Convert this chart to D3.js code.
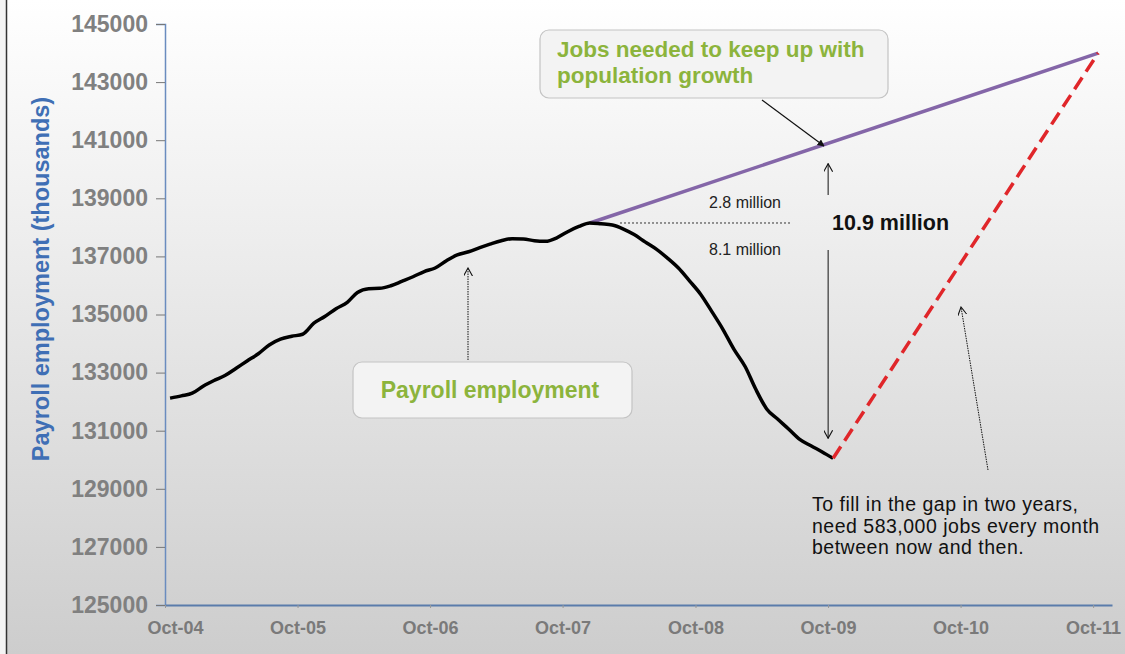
<!DOCTYPE html>
<html>
<head>
<meta charset="utf-8">
<script src="https://cdn.jsdelivr.net/npm/d3@7"></script>
<style>
  html, body { margin: 0; padding: 0; background: #ffffff; }
  svg { display: block; font-family: "Liberation Sans", Arial, sans-serif; }
</style>
</head>
<body>
<div id="chart"></div>
<script>
// monthly payroll employment, Oct 2004 .. Oct 2009 (thousands)
const payrollStart = [2004, 9];
const payroll = [
  132120, 132200, 132290, 132540, 132740, 132900, 133150, 133400, 133650, 133950,
  134150, 134250, 134320, 134700, 134930, 135200, 135420, 135760, 135890, 135900,
  135990, 136140, 136300, 136480, 136600, 136850, 137050, 137160, 137300, 137420,
  137540, 137610, 137600, 137540, 137520, 137640, 137850, 138030, 138150, 138120,
  138080, 137950, 137750, 137500, 137250, 136950, 136600, 136150, 135700, 135100,
  134500, 133800, 133200, 132450, 131750, 131400, 131050, 130700, 130480, 130270,
  130050
];
// jobs needed to keep up with population growth: Dec 2007 -> Oct 2011
const trendDates = [[2007, 11], [2011, 9]];
const trendValues = [138150, 144000];
// gap filling path: Oct 2009 -> Oct 2011
const gapDates = [[2009, 9], [2011, 9]];
const gapValues = [130050, 144000];

const yTicks = [125000, 127000, 129000, 131000, 133000, 135000, 137000, 139000, 141000, 143000, 145000];
const xTickYears = [2004, 2005, 2006, 2007, 2008, 2009, 2010, 2011];
const xTickLabels = ['Oct-04', 'Oct-05', 'Oct-06', 'Oct-07', 'Oct-08', 'Oct-09', 'Oct-10', 'Oct-11'];

const width = 1125, height = 654;
const mid = (ym) => new Date(ym[0], ym[1], 15);

const svg = d3.select('#chart').append('svg')
  .attr('width', width)
  .attr('height', height);

const defs = svg.append('defs');
const grad = defs.append('linearGradient')
  .attr('id', 'bg').attr('x1', 0).attr('y1', 0).attr('x2', 0).attr('y2', 1);
grad.append('stop').attr('offset', '0%').attr('stop-color', '#ffffff');
grad.append('stop').attr('offset', '35%').attr('stop-color', '#eeeeee');
grad.append('stop').attr('offset', '100%').attr('stop-color', '#cdcdcd');

['open', 'solid'].forEach(kind => {
  const m = defs.append('marker')
    .attr('id', 'arrow-' + kind)
    .attr('viewBox', '0 0 10 10')
    .attr('refX', 9).attr('refY', 5)
    .attr('markerWidth', kind === 'open' ? 9 : 7)
    .attr('markerHeight', kind === 'open' ? 9 : 7)
    .attr('markerUnits', 'userSpaceOnUse')
    .attr('orient', 'auto');
  if (kind === 'open') {
    m.append('path').attr('d', 'M0,0 L9,5 L0,10').attr('fill', 'none')
      .attr('stroke', '#111').attr('stroke-width', 1.2);
  } else {
    m.append('path').attr('d', 'M0,0 L10,5 L0,10 Z').attr('fill', '#111');
  }
});

svg.append('rect').attr('width', width).attr('height', height).attr('fill', 'url(#bg)');
// left frame edge
svg.append('rect').attr('x', 0).attr('y', 0).attr('width', 6).attr('height', height).attr('fill', '#f4f4f4');
svg.append('line').attr('x1', 6.5).attr('x2', 6.5).attr('y1', 0).attr('y2', height)
  .attr('stroke', '#333').attr('stroke-width', 1.5);

const x = d3.scaleTime()
  .domain([new Date(2004, 9, 1), new Date(2011, 10, 22)])
  .range([165, 1112]);
const y = d3.scaleLinear()
  .domain([125000, 145000])
  .range([605, 24]);

// y axis
const yAxis = svg.append('g')
  .attr('transform', 'translate(165,0)')
  .call(d3.axisLeft(y).tickValues(yTicks).tickFormat(d3.format('d')).tickSize(9).tickPadding(8));
yAxis.select('.domain').attr('stroke', '#6a8cbf').attr('stroke-width', 1.5);
yAxis.selectAll('.tick line').attr('stroke', '#777');
yAxis.selectAll('.tick text')
  .attr('fill', '#808080')
  .attr('font-size', 23)
  .attr('font-weight', 'bold')
  .attr('font-family', '"Liberation Sans", Arial, sans-serif');

// x axis
const xAxis = svg.append('g')
  .attr('transform', 'translate(0,605)')
  .call(d3.axisBottom(x)
    .tickValues(xTickYears.map(yr => new Date(yr, 9, 1)))
    .tickFormat((d, i) => xTickLabels[i])
    .tickSize(3).tickPadding(13)
    .tickSizeOuter(0));
xAxis.select('.domain').attr('stroke', '#5a7cab').attr('stroke-width', 1.8);
xAxis.selectAll('.tick line').attr('stroke', '#999');
xAxis.selectAll('.tick text')
  .attr('fill', '#7a7a7a')
  .attr('font-size', 18)
  .attr('font-weight', 'bold')
  .attr('font-family', '"Liberation Sans", Arial, sans-serif')
  .attr('dx', (d, i) => i === 0 ? 10 : 0);

// y axis title
svg.append('text')
  .attr('transform', 'translate(49,279) rotate(-90)')
  .attr('text-anchor', 'middle')
  .attr('fill', '#3f6fb5')
  .attr('font-size', 23.5)
  .attr('font-weight', 'bold')
  .text('Payroll employment (thousands)');

const line = d3.line().x(d => x(d[0])).y(d => y(d[1]));

const payrollPts = payroll.map((v, i) => [mid([payrollStart[0], payrollStart[1] + i]), v]);
const trendPts = trendDates.map((d, i) => [mid(d), trendValues[i]]);
const gapPts = gapDates.map((d, i) => [mid(d), gapValues[i]]);

svg.append('path').datum(trendPts).attr('d', line)
  .attr('fill', 'none').attr('stroke', '#8466a8').attr('stroke-width', 3.5);

svg.append('path').datum(payrollPts).attr('d', d3.line().curve(d3.curveMonotoneX).x(d => x(d[0])).y(d => y(d[1])))
  .attr('fill', 'none').attr('stroke', '#000').attr('stroke-width', 3.5)
  .attr('stroke-linejoin', 'round');

svg.append('path').datum(gapPts).attr('d', line)
  .attr('fill', 'none').attr('stroke', '#e0262a').attr('stroke-width', 3.5)
  .attr('stroke-dasharray', '14,7');

// annotations
const peakY = y(trendValues[0]);
const trough = gapPts[0];
const trendAt = (date) => {
  const t = (date - trendPts[0][0]) / (trendPts[1][0] - trendPts[0][0]);
  return trendValues[0] + t * (trendValues[1] - trendValues[0]);
};
const ax = x(trough[0]) - 5;

svg.append('line')
  .attr('x1', 620).attr('x2', 790).attr('y1', peakY).attr('y2', peakY)
  .attr('stroke', '#333').attr('stroke-width', 1).attr('stroke-dasharray', '2,2');

svg.append('text').attr('x', 745).attr('y', 208).attr('text-anchor', 'middle')
  .attr('font-size', 16).attr('fill', '#222').text('2.8 million');
svg.append('text').attr('x', 745).attr('y', 255).attr('text-anchor', 'middle')
  .attr('font-size', 16).attr('fill', '#222').text('8.1 million');
svg.append('text').attr('x', 832).attr('y', 230)
  .attr('font-size', 21.5).attr('font-weight', 'bold').attr('fill', '#111').text('10.9 million');

// up arrow to the trend line, down arrow to the trough
svg.append('line').attr('x1', ax).attr('x2', ax).attr('y1', 195).attr('y2', y(trendAt(trough[0])) + 22)
  .attr('stroke', '#111').attr('stroke-width', 1).attr('marker-end', 'url(#arrow-open)');
svg.append('line').attr('x1', ax).attr('x2', ax).attr('y1', 250).attr('y2', y(trough[1]) - 20)
  .attr('stroke', '#111').attr('stroke-width', 1).attr('marker-end', 'url(#arrow-open)');

// boxes
function box(x0, y0, w, h) {
  svg.append('rect').attr('x', x0).attr('y', y0).attr('width', w).attr('height', h)
    .attr('rx', 9).attr('fill', '#f3f3f3').attr('stroke', '#c4c4c4').attr('stroke-width', 1.2);
}
box(540, 30, 348, 68);
svg.append('text').attr('x', 557).attr('y', 57)
  .attr('font-size', 22.5).attr('font-weight', 'bold').attr('fill', '#8cb43c')
  .selectAll('tspan').data(['Jobs needed to keep up with', 'population growth']).join('tspan')
  .attr('x', 557).attr('dy', (d, i) => i === 0 ? 0 : 26).text(d => d);

box(353, 362, 279, 56);
svg.append('text').attr('x', 490).attr('y', 398).attr('text-anchor', 'middle')
  .attr('font-size', 23).attr('font-weight', 'bold').attr('fill', '#8cb43c')
  .text('Payroll employment');

// arrows from boxes
svg.append('line').attr('x1', 762).attr('y1', 100).attr('x2', 824).attr('y2', 146)
  .attr('stroke', '#111').attr('stroke-width', 1.2).attr('marker-end', 'url(#arrow-solid)');
svg.append('line').attr('x1', 468).attr('y1', 360).attr('x2', 468).attr('y2', 268)
  .attr('stroke', '#111').attr('stroke-width', 1).attr('stroke-dasharray', '1.5,1')
  .attr('marker-end', 'url(#arrow-open)');
svg.append('line').attr('x1', 988).attr('y1', 470).attr('x2', 961).attr('y2', 307)
  .attr('stroke', '#111').attr('stroke-width', 1).attr('stroke-dasharray', '1.5,1')
  .attr('marker-end', 'url(#arrow-open)');

svg.append('text').attr('font-size', 19.5).attr('letter-spacing', 0.5).attr('fill', '#111')
  .selectAll('tspan')
  .data(['To fill in the gap in two years,', 'need 583,000 jobs every month', 'between now and then.'])
  .join('tspan')
  .attr('x', 812).attr('y', (d, i) => 511 + i * 21.5).text(d => d);
</script>
</body>
</html>
